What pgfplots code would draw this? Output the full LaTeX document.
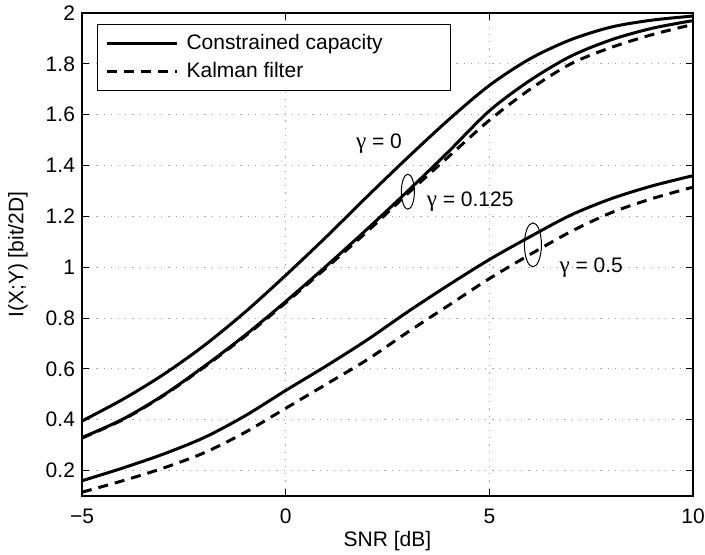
\documentclass[border=0pt]{standalone}
\usepackage{fontspec}
\setmainfont{Liberation Sans}
\newfontfamily\greekfont{Liberation Serif}
\usepackage{pgfplots}
\pgfplotsset{compat=1.18}
\usepackage{pgfplotstable}

% SNR [dB] vs I(X;Y) [bit/2D]
\pgfplotstableread{
snr  cc0    cc1    kf1    cc5    kf5
-5   0.395  0.330  0.328  0.160  0.115
-4   0.480  0.402  0.400  0.210  0.160
-3   0.578  0.497  0.495  0.265  0.210
-2   0.692  0.610  0.607  0.330  0.270
-1   0.823  0.732  0.728  0.415  0.350
0    0.968  0.865  0.860  0.515  0.445
1    1.120  1.005  0.998  0.612  0.540
2    1.278  1.150  1.140  0.714  0.636
3    1.432  1.300  1.290  0.825  0.745
4    1.580  1.455  1.435  0.930  0.850
5    1.715  1.615  1.578  1.030  0.955
6    1.820  1.735  1.700  1.120  1.050
7    1.895  1.830  1.800  1.205  1.140
8    1.945  1.895  1.865  1.270  1.215
9    1.972  1.940  1.915  1.320  1.270
10   1.988  1.970  1.955  1.360  1.315
}\datatable

\newcommand\fs{\fontsize{10.5}{12.5}\selectfont}
\newcommand\g{{\greekfont\fontsize{11.5}{12.5}\selectfont γ}}

\begin{document}
\begin{tikzpicture}
\begin{axis}[
  scale only axis,
  width=305.5pt, height=241.5pt,
  xmin=-5, xmax=10, ymin=0.1, ymax=2,
  xtick={-5,0,5,10},
  xticklabels={−5,0,5,10},
  ytick={0.2,0.4,...,2.01},
  yticklabels={0.2,0.4,0.6,0.8,1,1.2,1.4,1.6,1.8,2},
  tick align=inside,
  major tick length=3.5pt,
  tick style={black, line width=0.5pt},
  axis line style={line width=0.6pt},
  grid=major,
  major grid style={gray!70, line width=0.5pt, dash pattern=on 0.6pt off 3pt},
  tick label style={font=\fs},
  xticklabel style={yshift=-3pt},
  label style={font=\fs},
  xlabel={SNR [dB]},
  ylabel={I(X;Y) [bit/2D]},
  x label style={at={(axis description cs:0.5,-0.093)}, anchor=center},
  y label style={at={(axis description cs:-0.105,0.5)}, anchor=center},
  legend style={at={(0.0245,0.978)}, anchor=north west,
    draw=black, line width=0.6pt, font=\fs,
    inner xsep=4pt, inner ysep=3pt, row sep=1pt},
  legend cell align=left,
  legend image code/.code={\draw[#1] (0pt,0pt) -- (35pt,0pt);},
]
\addplot[black, line width=1.5pt, smooth] table[x=snr, y=cc0] {\datatable};
\addlegendentry{\hspace{2pt}\makebox[126pt][l]{Constrained capacity}}
\addplot[black, line width=1.5pt, dash pattern=on 5pt off 3.5pt, smooth] table[x=snr, y=kf1] {\datatable};
\addlegendentry{\hspace{2pt}\makebox[126pt][l]{Kalman filter}}
\addplot[black, line width=1.5pt, smooth, forget plot] table[x=snr, y=cc1] {\datatable};
\addplot[black, line width=1.5pt, smooth, forget plot] table[x=snr, y=cc5] {\datatable};
\addplot[black, line width=1.5pt, dash pattern=on 5pt off 3.5pt, smooth, forget plot] table[x=snr, y=kf5] {\datatable};

\node[font=\fs] at (axis cs:2.29,1.485) {\g\ = 0};
\node[font=\fs] at (axis cs:4.53,1.257) {\g\ = 0.125};
\node[font=\fs] at (axis cs:7.5,1.0) {\g\ = 0.5};
\draw[black, line width=0.5pt] (axis cs:3.0,1.297) ellipse [x radius=3.25pt, y radius=8.75pt];
\draw[black, line width=0.5pt] (axis cs:6.07,1.088) ellipse [x radius=4.25pt, y radius=11pt];
\end{axis}
\pgfresetboundingbox
\path (current axis.south west) ++(-41pt,-29.5pt) coordinate (bl);
\path (current axis.north east) ++(6pt,6.5pt) coordinate (tr);
\path (bl) rectangle (tr);
\end{tikzpicture}
\end{document}
